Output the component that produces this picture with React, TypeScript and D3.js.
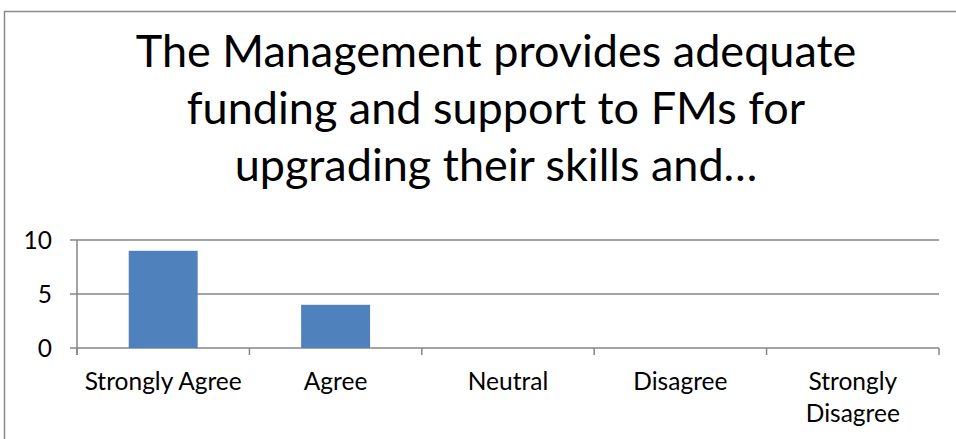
import React, { useEffect, useRef } from "react";
import * as d3 from "d3";

const titleLines = ["The Management provides adequate", "funding and support to FMs for", "upgrading their skills and…"];
const categories = ["Strongly Agree", "Agree", "Neutral", "Disagree", "Strongly Disagree"];
const categoryLabelLines = [["Strongly Agree"], ["Agree"], ["Neutral"], ["Disagree"], ["Strongly", "Disagree"]];
const values = [9, 4, 0, 0, 0];
const yTicks = [0, 5, 10];

const W = 956, H = 439;
const FONT = "Lato, 'Open Sans', sans-serif";

export default function App() {
  const ref = useRef<SVGSVGElement>(null);
  useEffect(() => {
    const svg = d3.select(ref.current);
    svg.selectAll("*").remove();
    const left = 77, right = 939, top = 240, bottom = 348;
    const x = d3.scaleBand<string>().domain(categories).range([left, right]).paddingInner(0).paddingOuter(0);
    const y = d3.scaleLinear().domain([0, 10]).range([bottom, top]);

    svg.append("rect").attr("x", 4.5).attr("y", 11.5).attr("width", W + 10).attr("height", H + 10)
      .attr("fill", "white").attr("stroke", "#8a8a8a").attr("stroke-width", 1.5);

    const t = svg.append("text").attr("font-family", FONT).attr("font-size", 45).attr("fill", "#000").attr("text-anchor", "middle");
    titleLines.forEach((l, i) => {
      t.append("tspan").attr("x", 496).attr("y", 67 + i * 57).text(l);
    });

    const g = svg.append("g");
    yTicks.forEach(v => {
      g.append("line").attr("x1", left - 7).attr("x2", right).attr("y1", y(v)).attr("y2", y(v))
        .attr("stroke", "#868686").attr("stroke-width", 1.5);
      g.append("text").attr("x", 52).attr("y", y(v)).attr("dy", "0.36em").attr("text-anchor", "end")
        .attr("font-family", FONT).attr("font-size", 24.5).text(String(v));
    });
    g.append("line").attr("x1", left).attr("x2", left).attr("y1", top).attr("y2", bottom + 7)
      .attr("stroke", "#868686").attr("stroke-width", 1.5);
    const edges = categories.map(c => x(c)!).concat([right]);
    edges.forEach(e => {
      g.append("line").attr("x1", e).attr("x2", e).attr("y1", bottom).attr("y2", bottom + 7)
        .attr("stroke", "#868686").attr("stroke-width", 1.5);
    });

    const bw = x.bandwidth() * 0.4;
    g.selectAll("rect.bar").data(values).enter().append("rect").attr("class", "bar")
      .attr("x", (_d, i) => x(categories[i])! + x.bandwidth() / 2 - bw / 2)
      .attr("y", d => y(d)).attr("width", bw).attr("height", d => bottom - y(d))
      .attr("fill", "#4f81bd");

    categoryLabelLines.forEach((lines, i) => {
      const tt = g.append("text").attr("font-family", FONT).attr("font-size", 24.5).attr("text-anchor", "middle");
      lines.forEach((l, j) => {
        tt.append("tspan").attr("x", x(categories[i])! + x.bandwidth() / 2).attr("y", 390 + j * 32).text(l);
      });
    });
  }, []);
  return <svg ref={ref} width={W} height={H} style={{ position: "absolute", left: 0, top: 0 }} />;
}
